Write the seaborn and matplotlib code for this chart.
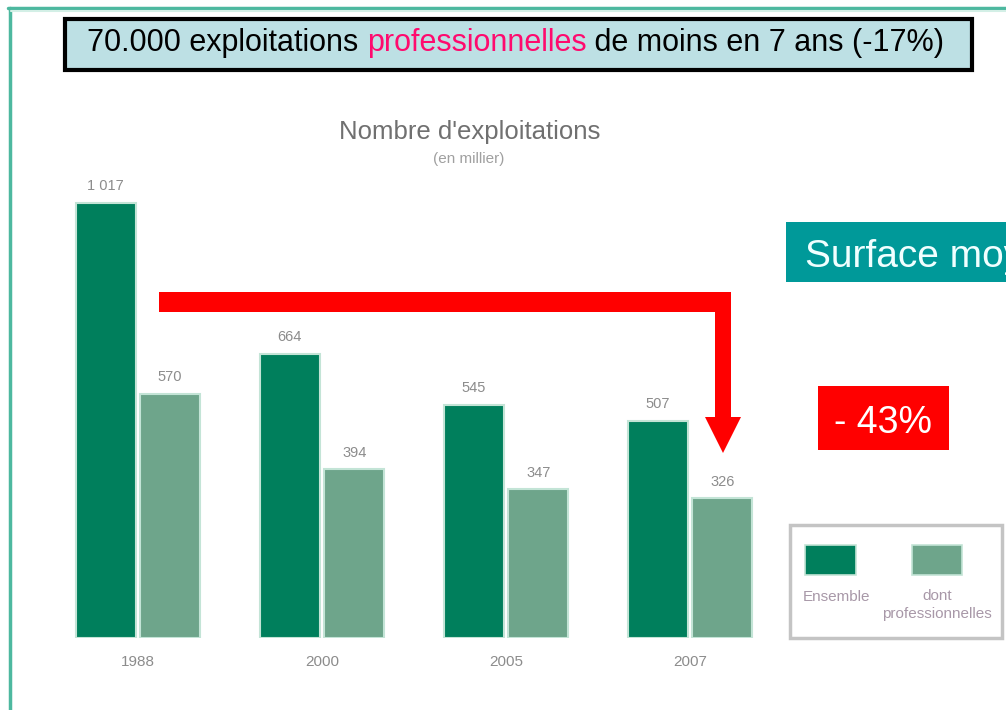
import numpy as np
import pandas as pd
import matplotlib.pyplot as plt
import seaborn as sns
from matplotlib.patches import Rectangle, Polygon
from matplotlib.lines import Line2D

# data (milliers d'exploitations)
years = ['1988', '2000', '2005', '2007']
ensemble = [1017, 664, 545, 507]
professionnelles = [570, 394, 347, 326]
series_names = ['Ensemble', 'dont professionnelles']

W, H = 1006, 710


def px(x, y):
    # pixel position (from top-left) -> figure fraction
    return (x / W, 1 - y / H)


df = pd.DataFrame({
    'Année': years * 2,
    'Nombre': ensemble + professionnelles,
    'Série': [series_names[0]] * 4 + [series_names[1]] * 4,
})

sns.set_style('white')
plt.rcParams['font.family'] = ['Liberation Sans', 'DejaVu Sans']

dark_green = '#007F5C'
light_green = '#6EA58B'
edge_green = '#C3E4D6'
grey = '#8C8C8C'

fig = plt.figure(figsize=(W / 100, H / 100), dpi=100)

# bar chart
ax = fig.add_axes([46 / W, 72 / H, 736 / W, 513.6 / H])

sns.barplot(
    data=df,
    x='Année',
    y='Nombre',
    hue='Série',
    palette=[dark_green, light_green],
    saturation=1,
    width=0.7,
    gap=0.07,
    edgecolor=edge_green,
    linewidth=1.5,
    legend=False,
    ax=ax
)

ax.set_xlim(-0.5, 3.5)
ax.set_ylim(0, 1200)

for container, values in zip(ax.containers, [ensemble, professionnelles]):
    ax.bar_label(
        container,
        labels=[f'{v:,}'.replace(',', ' ') for v in values],
        padding=7,
        fontsize=10.5,
        color=grey
    )

sns.despine(ax=ax, left=True, bottom=True)
ax.set_yticks([])
ax.set_xlabel('')
ax.set_ylabel('')
ax.tick_params(axis='x', length=0, pad=12, labelsize=11, labelcolor=grey)
ax.patch.set_alpha(0)

# slide frame lines
fig.add_artist(Line2D([px(9.5, 0)[0]] * 2, [0, px(0, 7.5)[1]],
                      color='#4DB89F', linewidth=2.5, transform=fig.transFigure))
fig.add_artist(Line2D([px(8, 0)[0], 1], [px(0, 7.5)[1]] * 2,
                      color='#4DB89F', linewidth=2.5, transform=fig.transFigure))
fig.add_artist(Line2D([px(11, 0)[0], 1], [px(0, 10.5)[1]] * 2,
                      color='#D3EFE6', linewidth=1.5, transform=fig.transFigure))

# headline box
x0, y0 = px(65, 70)
fig.add_artist(Rectangle((x0, y0), 907 / W, 51 / H, transform=fig.transFigure,
                         facecolor='#BDE0E4', edgecolor='black', linewidth=3))
t1 = fig.text(*px(87, 51), '70.000 exploitations ', fontsize=22,
              color='black', va='baseline', ha='left')
t2 = fig.text(0, 0, 'professionnelles', fontsize=22, color='#FF0A6E')
t3 = fig.text(0, 0, ' de moins en 7 ans (-17%)', fontsize=22, color='black')
fig.canvas.draw()
r = fig.canvas.get_renderer()
bb1 = t1.get_window_extent(r)
t2.set_position(px(bb1.x1, 51))
t2.set_va('baseline')
fig.canvas.draw()
bb2 = t2.get_window_extent(r)
t3.set_position(px(bb2.x1, 51))
t3.set_va('baseline')

# chart title
fig.text(*px(470, 132), "Nombre d'exploitations", fontsize=18.5,
         color='#707070', ha='center', va='center')
fig.text(*px(469, 159), '(en millier)', fontsize=11,
         color='#A0A0A0', ha='center', va='center')

# red elbow arrow
arrow_pts = [(159, 292), (731, 292), (731, 417), (741, 417), (723, 453),
             (705, 417), (715, 417), (715, 312), (159, 312)]
fig.add_artist(Polygon([px(x, y) for x, y in arrow_pts], closed=True,
                       transform=fig.transFigure, facecolor='#FF0000',
                       edgecolor='none'))

# "Surface moyenne" banner (cut by the slide edge)
x0, y0 = px(786, 282)
fig.add_artist(Rectangle((x0, y0), 300 / W, 60 / H, transform=fig.transFigure,
                         facecolor='#009999', edgecolor='none'))
fig.text(*px(805, 267), 'Surface moyenne', fontsize=28, color='#F0FFFF',
         ha='left', va='baseline')

# -43% box
x0, y0 = px(818, 450)
fig.add_artist(Rectangle((x0, y0), 131 / W, 64 / H, transform=fig.transFigure,
                         facecolor='#FF0000', edgecolor='none'))
fig.text(*px(883, 433), '- 43%', fontsize=27, color='white',
         ha='center', va='baseline')

# legend
x0, y0 = px(790, 638)
fig.add_artist(Rectangle((x0, y0), 212 / W, 113 / H, transform=fig.transFigure,
                         facecolor='white', edgecolor='#C4C4C4', linewidth=2.5))
x0, y0 = px(805, 575)
fig.add_artist(Rectangle((x0, y0), 51 / W, 30 / H, transform=fig.transFigure,
                         facecolor=dark_green, edgecolor=edge_green, linewidth=1.2))
x0, y0 = px(912, 575)
fig.add_artist(Rectangle((x0, y0), 50 / W, 30 / H, transform=fig.transFigure,
                         facecolor=light_green, edgecolor=edge_green, linewidth=1.2))
legend_grey = '#A898A8'
fig.text(*px(837, 597), 'Ensemble', fontsize=11, color=legend_grey,
         ha='center', va='center')
fig.text(*px(937, 605), 'dont\nprofessionnelles', fontsize=11,
         color=legend_grey, ha='center', va='center', linespacing=1.3)

fig.savefig('out.png', dpi=100)
